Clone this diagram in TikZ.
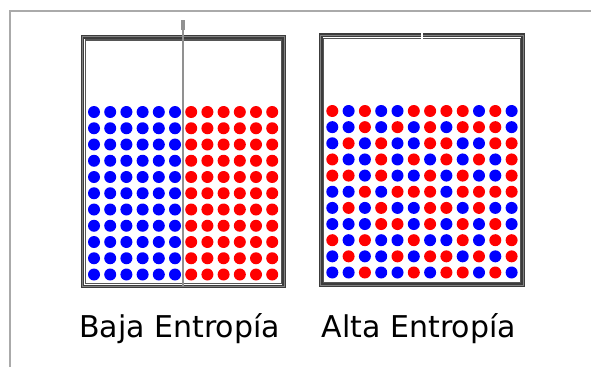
\documentclass[tikz,border=0pt]{standalone}
\usepackage{fontspec}
\setmainfont{DejaVu Sans}
\definecolor{dotR}{RGB}{255,0,0}
\definecolor{dotB}{RGB}{0,0,255}
\definecolor{framegray}{RGB}{170,170,170}
\definecolor{walldark}{RGB}{60,60,60}
\definecolor{wallmid}{RGB}{130,130,130}
\definecolor{wallin}{RGB}{85,85,85}
\definecolor{divgray}{RGB}{145,145,145}
\tikzset{
  dotstyle/.style={circle,inner sep=0pt,minimum size=12pt},
  wallout/.style={draw=walldark,line width=3.6pt},
  wallcore/.style={draw=wallmid,line width=1pt},
  wallinner/.style={draw=wallin,line width=1.1pt},
  label/.style={anchor=base,font=\fontsize{30}{36}\selectfont}
}
\begin{document}
\begin{tikzpicture}[x=1pt,y=-1pt]
\useasboundingbox (0,0) rectangle (591,367);
\fill[white] (0,0) rectangle (591,367);
% outer frame
\draw[framegray,line width=1.5pt] (10,367) -- (10,11) -- (591,11);

% ---------- left container ----------
\draw[wallout] (82.5,36.8) rectangle (284,286.5);
\draw[wallcore] (82.5,36.8) rectangle (284,286.5);
\draw[wallinner] (85.3,40) rectangle (281.2,283.8);
% dots
\foreach \r in {0,...,10} {
  \foreach \i in {0,...,5} {
    \fill[dotB] (94+16.2*\i,112+16.25*\r) circle (6);
  }
  \foreach \i in {6,...,11} {
    \fill[dotR] (94+16.2*\i,112+16.25*\r) circle (6);
  }
}
% divider with handle
\fill[divgray] (181.2,19.5) rectangle (185.2,30);
\draw[divgray,line width=1.5pt] (183.2,30) -- (183.2,286);

% ---------- right container ----------
\draw[wallout] (320.8,35.1) rectangle (523.2,285.2);
\draw[wallcore] (320.8,35.1) rectangle (523.2,285.2);
\draw[wallinner] (323.6,38.3) rectangle (520.4,282.4);
\fill[white] (421.4,32) rectangle (422.6,40);
\foreach \row [count=\r from 0] in {
  {R,B,R,B,B,R,R,R,R,B,R,B},
  {B,B,R,B,R,B,R,B,R,R,R,B},
  {B,R,B,R,B,B,R,R,B,B,R,R},
  {R,B,B,R,B,R,B,R,B,R,B,R},
  {R,R,B,R,B,B,R,B,R,B,B,R},
  {B,B,R,B,R,R,R,B,R,R,R,R},
  {B,R,B,R,B,B,R,R,B,R,B,B},
  {B,B,B,R,R,B,R,B,R,B,R,B},
  {R,B,R,B,B,R,B,B,R,B,R,R},
  {B,R,B,B,R,B,R,R,B,R,B,R},
  {B,B,R,B,B,R,B,R,R,B,R,B}} {
  \foreach \c [count=\i from 0] in \row {
    \fill[dot\c] (332.3+16.3*\i,111+16.15*\r) circle (6);
  }
}

% labels
\node[label] (baja) at (179.5,337.5) {Baja Entropía};
\node[label] (alta) at (419,337.5) {Alta Entropía};
\end{tikzpicture}
\end{document}
